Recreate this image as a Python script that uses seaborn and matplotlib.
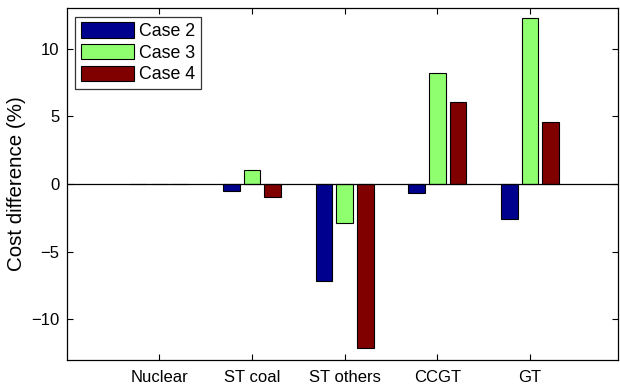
import matplotlib
matplotlib.use("Agg")
import matplotlib.pyplot as plt
import seaborn as sns
import pandas as pd

categories = ["Nuclear", "ST coal", "ST others", "CCGT", "GT"]
series_names = ["Case 2", "Case 3", "Case 4"]
case2 = [0.0, -0.52, -7.2, -0.64, -2.6]
case3 = [0.0, 1.04, -2.87, 8.21, 12.24]
case4 = [0.0, -0.94, -12.1, 6.03, 4.6]
colors = ["#00008F", "#8FFF70", "#800000"]

rows = []
for name, vals in zip(series_names, [case2, case3, case4]):
    for c, v in zip(categories, vals):
        rows.append({"cat": c, "case": name, "val": v})
df = pd.DataFrame(rows)

sns.set_theme(style="white")
plt.rcParams["font.family"] = ["Liberation Sans", "DejaVu Sans"]
plt.rcParams["axes.unicode_minus"] = True
plt.rcParams["text.color"] = "black"
plt.rcParams["axes.labelcolor"] = "black"
plt.rcParams["xtick.color"] = "black"
plt.rcParams["ytick.color"] = "black"

fig = plt.figure(figsize=(6.2, 3.86), dpi=100)
ax = fig.add_axes([66.5/620, 26/386, (618-66.5)/620, (360-8)/386])

sns.barplot(data=df, x="cat", y="val", hue="case", order=categories,
            hue_order=series_names, palette=colors, saturation=1,
            width=0.667, gap=0.19,
            edgecolor="black", linewidth=0.8, ax=ax, legend=True)

ax.axhline(0, color="black", linewidth=0.9, zorder=5)
ax.set_xlim(-1, 4.95)
ax.set_ylim(-13, 13)
ax.set_yticks([-10, -5, 0, 5, 10])
ax.set_xlabel("")
ax.set_ylabel("Cost difference (%)", fontsize=14.8, labelpad=4)
ax.tick_params(axis="both", direction="in", length=4, width=0.8, labelsize=12,
               top=True, right=True, bottom=True, left=True, colors="black")
ax.tick_params(axis="x", pad=7)
ax.tick_params(axis="y", pad=5)
for s in ax.spines.values():
    s.set_visible(True)
    s.set_color("black")
    s.set_linewidth(0.9)

leg = ax.legend(loc="upper left", fontsize=12.8, frameon=True, fancybox=False,
                edgecolor="black", handlelength=3.0, handleheight=0.95,
                labelspacing=0.22, handletextpad=0.3, borderpad=0.3,
                borderaxespad=0.5)
leg.get_frame().set_linewidth(0.9)
for t in leg.get_texts():
    t.set_color("black")

fig.savefig("out.png", dpi=100)
